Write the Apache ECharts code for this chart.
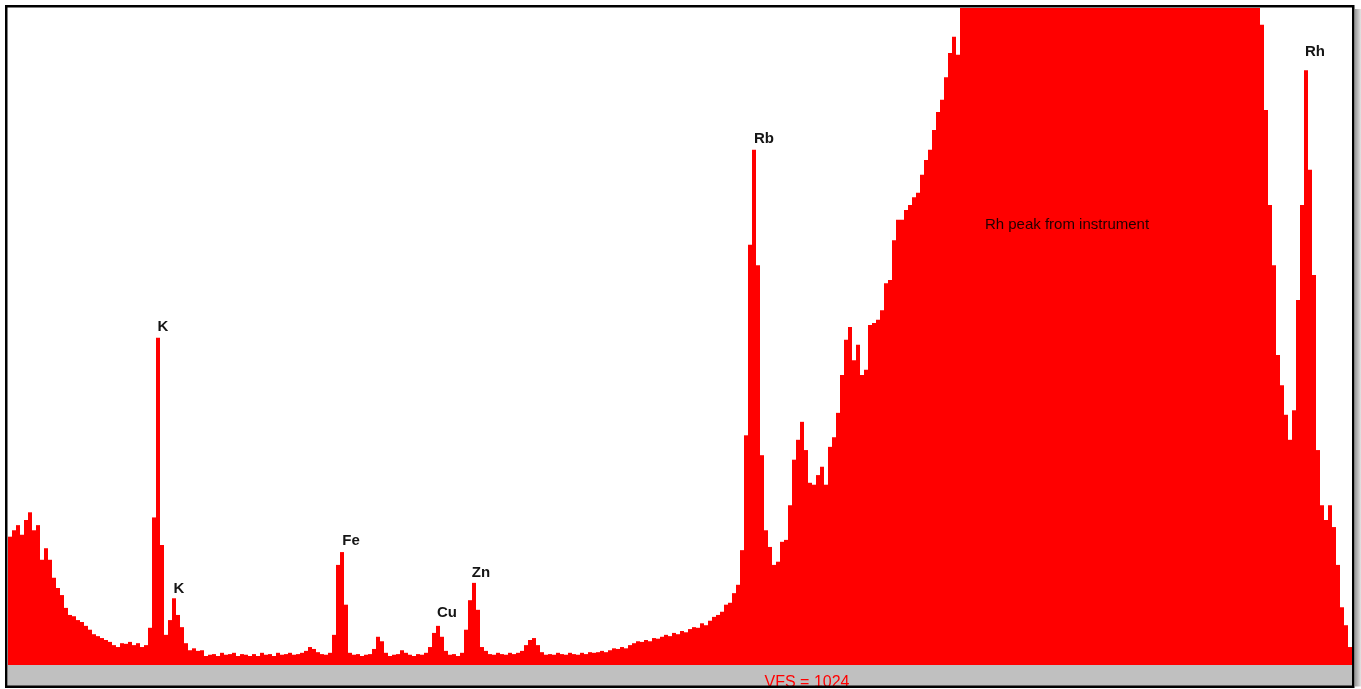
<!DOCTYPE html>
<html>
<head>
<meta charset="utf-8">
<title>XRF spectrum</title>
<script src="https://cdn.jsdelivr.net/npm/echarts@6/dist/echarts.min.js"></script>
<style>
  html, body { margin: 0; padding: 0; background: #fff; }
  #chart { width: 1361px; height: 689px; }
</style>
</head>
<body>
<div id="chart"></div>
<script>
// counts per channel, full scale 1024 (VFS)
var counts = [
  200, 210, 218, 203, 226, 238, 210, 218, 164, 182,
  164, 136, 120, 109, 89, 78, 76, 70, 67, 61,
  55, 48, 45, 42, 39, 36, 31, 28, 34, 33,
  36, 31, 34, 28, 31, 58, 230, 510, 187, 47,
  70, 104, 78, 59, 34, 23, 26, 22, 23, 14,
  16, 17, 14, 19, 16, 17, 19, 14, 17, 16,
  14, 17, 14, 19, 16, 17, 14, 19, 16, 17,
  19, 16, 17, 19, 22, 28, 25, 20, 17, 16,
  19, 47, 156, 176, 94, 19, 16, 17, 14, 16,
  17, 25, 44, 37, 19, 14, 16, 17, 23, 19,
  16, 14, 17, 16, 19, 28, 50, 61, 44, 22,
  16, 17, 14, 19, 55, 101, 128, 86, 28, 22,
  17, 16, 19, 17, 16, 19, 17, 19, 22, 31,
  39, 42, 31, 20, 16, 17, 16, 19, 17, 16,
  19, 17, 16, 19, 17, 20, 19, 20, 22, 20,
  23, 26, 25, 28, 26, 31, 34, 37, 36, 39,
  37, 42, 41, 44, 47, 45, 50, 48, 53, 51,
  56, 59, 58, 65, 62, 69, 75, 78, 83, 94,
  97, 112, 125, 179, 358, 655, 803, 623, 327, 210,
  184, 156, 161, 192, 195, 249, 320, 351, 379, 335,
  284, 281, 296, 309, 281, 340, 355, 393, 452, 507,
  527, 475, 499, 452, 460, 530, 533, 538, 553, 595,
  600, 662, 694, 694, 709, 717, 729, 736, 764, 787,
  803, 834, 862, 881, 916, 954, 979, 951, 1024, 1024,
  1024, 1024, 1024, 1024, 1024, 1024, 1024, 1024, 1024, 1024,
  1024, 1024, 1024, 1024, 1024, 1024, 1024, 1024, 1024, 1024,
  1024, 1024, 1024, 1024, 1024, 1024, 1024, 1024, 1024, 1024,
  1024, 1024, 1024, 1024, 1024, 1024, 1024, 1024, 1024, 1024,
  1024, 1024, 1024, 1024, 1024, 1024, 1024, 1024, 1024, 1024,
  1024, 1024, 1024, 1024, 1024, 1024, 1024, 1024, 1024, 1024,
  1024, 1024, 1024, 1024, 1024, 1024, 1024, 1024, 1024, 1024,
  1024, 1024, 1024, 998, 865, 717, 623, 483, 436, 390,
  351, 397, 569, 717, 927, 772, 608, 335, 249, 226,
  249, 215, 156, 90, 62, 28
];

var channels = counts.map(function (v, i) { return String(i + 1); });

// element lines: label, peak channel index, label offset
var peakNames = ['K', 'K', 'Fe', 'Cu', 'Zn', 'Rb', 'Rh'];
var peakChannels = [37, 41, 83, 107, 116, 186, 324];
var peakOffsets = [[5, -11], [5, -9], [9, -11], [9, -13], [7, -10], [10, -11], [9, -18]];

var vfs = 1024;

var markData = peakNames.map(function (name, k) {
    var ch = peakChannels[k];
    return {
        name: name,
        coord: [channels[ch], counts[ch]],
        label: { formatter: name, offset: peakOffsets[k] }
    };
});
markData.push({
    name: 'Rh peak from instrument',
    coord: [channels[264], 686],
    label: {
        formatter: 'Rh peak from instrument',
        offset: [1, 0],
        fontWeight: 'normal',
        fontSize: 15,
        color: '#220000'
    }
});

var chart = echarts.init(document.getElementById('chart'));
var option = {
    animation: false,
    backgroundColor: '#fff',
    grid: { left: 8, right: 9, top: 8, bottom: 24 },
    xAxis: {
        type: 'category',
        data: channels,
        show: false
    },
    yAxis: {
        type: 'value',
        min: 0,
        max: vfs,
        show: false
    },
    series: [
        {
            type: 'bar',
            data: counts,
            barWidth: '100%',
            barCategoryGap: '0%',
            itemStyle: { color: '#ff0000', borderWidth: 0 },
            markPoint: {
                symbol: 'circle',
                symbolSize: 0,
                label: {
                    show: true,
                    position: 'inside',
                    color: '#151515',
                    fontFamily: 'Liberation Sans, Arial, sans-serif',
                    fontSize: 15,
                    fontWeight: 'bold'
                },
                data: markData
            }
        }
    ],
    graphic: [
        {
            type: 'rect',
            shape: { x: 8, y: 665, width: 1345, height: 21 },
            style: { fill: '#c0c0c0' },
            z: 10
        },
        {
            type: 'text',
            x: 807,
            y: 675,
            style: {
                text: 'VFS = ' + vfs,
                fill: '#ff0000',
                font: '16px Liberation Sans, Arial, sans-serif',
                textAlign: 'center',
                textVerticalAlign: 'top'
            },
            z: 11
        },
        {
            type: 'rect',
            shape: { x: 1355, y: 9, width: 6, height: 680 },
            style: {
                fill: new echarts.graphic.LinearGradient(0, 0, 1, 0, [
                    { offset: 0, color: '#9a9a9a' },
                    { offset: 1, color: '#e4e4e4' }
                ])
            },
            z: 10
        },
        {
            type: 'rect',
            shape: { x: 0, y: 686.5, width: 1361, height: 3 },
            style: { fill: '#fff' },
            z: 12
        },
        {
            type: 'rect',
            shape: { x: 6.25, y: 6.25, width: 1347, height: 680.5 },
            style: { fill: 'none', stroke: '#000', lineWidth: 2.5 },
            z: 13
        }
    ]
};
chart.setOption(option);
</script>
</body>
</html>
